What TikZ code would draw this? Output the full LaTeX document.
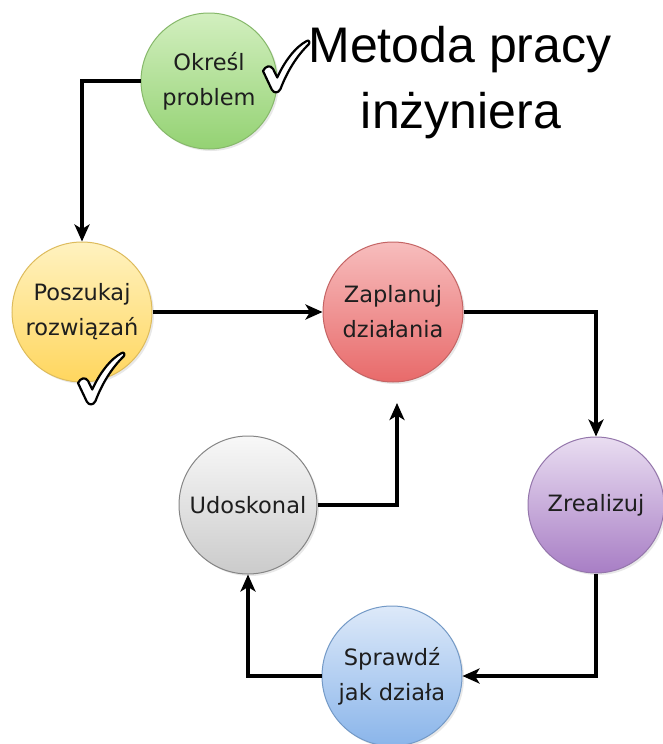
\documentclass[tikz,border=0pt]{standalone}
\usepackage{fontspec}
\usetikzlibrary{arrows.meta,shadows}
\newfontfamily\stagefamily{DejaVu Sans}
\newfontfamily\titlefamily{Liberation Sans}

\definecolor{greenTop}{HTML}{D2EFBF}
\definecolor{greenBot}{HTML}{94D273}
\definecolor{greenEdge}{HTML}{86B86A}
\definecolor{yellowTop}{HTML}{FFF2C0}
\definecolor{yellowBot}{HTML}{FFD65E}
\definecolor{yellowEdge}{HTML}{DDBB5C}
\definecolor{redTop}{HTML}{F7BDBD}
\definecolor{redBot}{HTML}{E86A6A}
\definecolor{redEdge}{HTML}{C46464}
\definecolor{purpleTop}{HTML}{E9DDF1}
\definecolor{purpleBot}{HTML}{A87EC5}
\definecolor{purpleEdge}{HTML}{9476AB}
\definecolor{grayTop}{HTML}{F8F8F8}
\definecolor{grayBot}{HTML}{CBCBCB}
\definecolor{grayEdge}{HTML}{858585}
\definecolor{blueTop}{HTML}{DDE9F9}
\definecolor{blueBot}{HTML}{8AB5EA}
\definecolor{blueEdge}{HTML}{7399C6}
\definecolor{stageText}{HTML}{1E1E1E}

\tikzset{
  stage/.style={circle, inner sep=0pt, minimum size=140pt, align=center,
    line width=1pt, text=stageText,
    font=\stagefamily\fontsize{22.5}{35}\selectfont,
    drop shadow={shadow xshift=2pt, shadow yshift=-2pt, opacity=0.18}},
  tint/.style n args={3}{top color=#1, bottom color=#2, draw=#3},
  flow/.style={line width=3.2pt, line join=miter,
    -{Stealth[length=17pt, width=15pt, inset=4.5pt]}},
  titletext/.style={font=\titlefamily\fontsize{50}{66}\selectfont, anchor=base},
  pics/tick/.style={code={
    \path[draw=black, fill=white, line width=2.2pt, line join=round, x=46pt, y=50pt]
      (0.00,0.42) .. controls (0.05,0.52) and (0.16,0.55) .. (0.22,0.46)
      -- (0.31,0.29)
      .. controls (0.46,0.60) and (0.70,0.90) .. (0.95,1.02)
      .. controls (1.00,1.05) and (1.03,0.99) .. (0.99,0.95)
      .. controls (0.73,0.72) and (0.52,0.40) .. (0.38,0.06)
      .. controls (0.33,-0.03) and (0.24,-0.03) .. (0.19,0.05)
      -- cycle;
  }}
}

\begin{document}
\begin{tikzpicture}[x=1pt, y=-1pt]
  \useasboundingbox (0,0) rectangle (662,744);

  % stages of the cycle
  \node[stage, tint={greenTop}{greenBot}{greenEdge}, minimum size=136pt]
    (okr) at (209,81) {Określ\\problem};
  \node[stage, tint={yellowTop}{yellowBot}{yellowEdge}]
    (posz) at (82,312) {Poszukaj\\rozwiązań};
  \node[stage, tint={redTop}{redBot}{redEdge}]
    (zapl) at (393,312) {Zaplanuj\\działania};
  \node[stage, tint={purpleTop}{purpleBot}{purpleEdge}, minimum size=136pt]
    (zreal) at (596,505) {Zrealizuj};
  \node[stage, tint={grayTop}{grayBot}{grayEdge}, minimum size=138pt]
    (udo) at (248,505) {Udoskonal};
  \node[stage, tint={blueTop}{blueBot}{blueEdge}]
    (spr) at (392,676) {Sprawdź\\jak działa};

  % title
  \node[titletext] (title1) at (460,62) {Metoda pracy};
  \node[titletext] (title2) at (461,128) {inżyniera};

  % connectors
  \coordinate (fb) at (397,403);
  \draw[flow] (okr.west) -| (posz.north);
  \draw[flow] (posz.east) -- (zapl.west);
  \draw[flow] (zapl.east) -| (zreal.north);
  \draw[flow] (zreal.south) |- (spr.east);
  \draw[flow] (spr.west) -| (udo.south);
  \draw[flow] (udo.east) -| (fb);

  % check marks
  \pic (tick1) at (263,92) {tick};
  \pic (tick2) at (78,404) {tick};
\end{tikzpicture}
\end{document}
